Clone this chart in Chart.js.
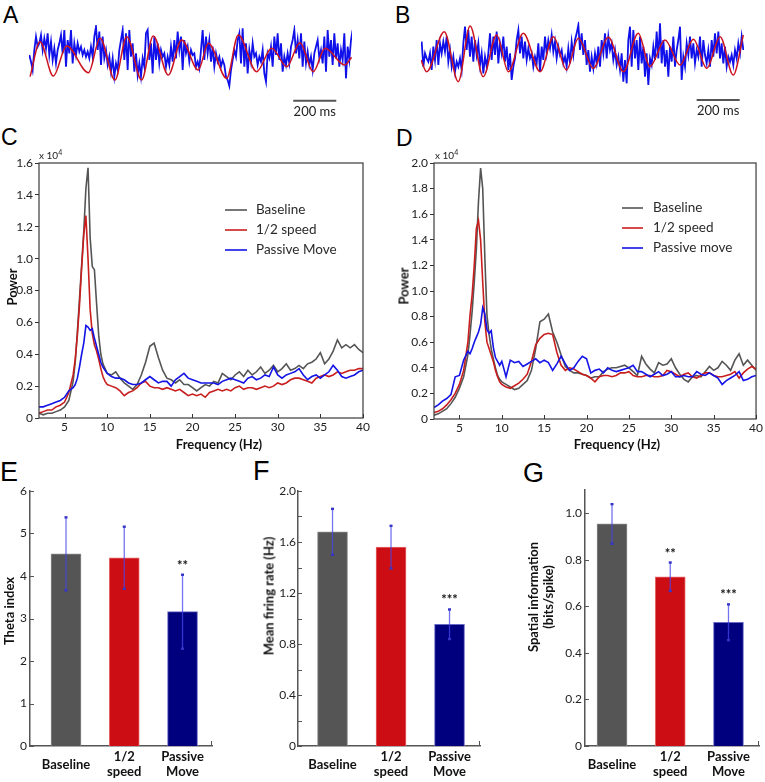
<!DOCTYPE html>
<html>
<head>
<meta charset="utf-8">
<script src="https://cdn.jsdelivr.net/npm/chart.js@4.4.0/dist/chart.umd.min.js"></script>
<style>
body{margin:0;background:#fff;}
#fig{position:relative;width:765px;height:782px;overflow:hidden;font-family:Lato,sans-serif;color:#111;}
canvas{position:absolute;}
.lbl{position:absolute;font-family:"Liberation Sans",Arial,sans-serif;line-height:1;color:#000;}
.ttl{position:absolute;font-weight:bold;font-size:13px;line-height:1;white-space:nowrap;transform:translate(-50%,-50%);}
.ttl.r{transform:translate(-50%,-50%) rotate(-90deg);}
.exp{position:absolute;font-size:10px;line-height:1;color:#222;}
.exp span{font-size:7px;position:relative;top:-4px;}
</style>
</head>
<body>
<div id="fig">
  <div class="lbl" style="left:3px;top:4px;font-size:23px">A</div>
  <div class="lbl" style="left:395px;top:4px;font-size:23px">B</div>
  <div class="lbl" style="left:1px;top:126px;font-size:23px">C</div>
  <div class="lbl" style="left:396px;top:127px;font-size:23px">D</div>
  <div class="lbl" style="left:0px;top:459px;font-size:27px">E</div>
  <div class="lbl" style="left:253px;top:458px;font-size:27px">F</div>
  <div class="lbl" style="left:523px;top:460px;font-size:27px">G</div>

  <canvas id="traceA" width="333" height="105" style="left:24px;top:20px"></canvas>
  <canvas id="traceB" width="333" height="108" style="left:416px;top:17px"></canvas>
  <canvas id="specC" width="380" height="300" style="left:0px;top:140px"></canvas>
  <canvas id="specD" width="380" height="300" style="left:385px;top:140px"></canvas>
  <canvas id="barE" width="250" height="302" style="left:0px;top:480px"></canvas>
  <canvas id="barF" width="255" height="302" style="left:250px;top:480px"></canvas>
  <canvas id="barG" width="260" height="302" style="left:505px;top:480px"></canvas>

  <div class="exp" style="left:39px;top:150px">x 10<span>4</span></div>
  <div class="exp" style="left:435px;top:150px">x 10<span>4</span></div>
  <div class="ttl r" style="left:12px;top:287px">Power</div>
  <div class="ttl r" style="left:404px;top:286px">Power</div>
  <div class="ttl" style="left:219px;top:444px">Frequency (Hz)</div>
  <div class="ttl" style="left:617px;top:444px">Frequency (Hz)</div>
  <div class="ttl r" style="left:9px;top:611px">Theta index</div>
  <div class="ttl r" style="left:269px;top:596px">Mean firing rate (Hz)</div>
  <div class="ttl r" style="left:533px;top:597px">Spatial information</div>
  <div class="ttl r" style="left:548px;top:597px">(bits/spike)</div>
</div>

<script>
'use strict';

// ---- A / B: raw LFP (blue) and theta-filtered trace (red), arbitrary units ----
const traceStepMs = 7.74;
const traceAStartMs = 1.5;
const traceABlue = [10,-10,-35,25,65,35,45,70,25,60,30,75,10,50,-5,30,-15,25,45,70,15,85,-25,55,15,85,-15,45,10,45,20,35,10,25,5,20,0,35,5,65,95,25,80,-20,65,0,25,-20,5,-40,0,-55,-15,-35,25,55,85,-5,75,-35,85,5,45,-40,15,-50,-15,-55,0,-25,75,85,-5,45,-45,65,-5,45,-15,25,5,15,-25,5,-20,35,-10,55,0,80,25,65,-35,55,15,35,-10,25,10,15,-25,-10,-30,25,85,-5,65,15,55,-10,35,-25,15,-10,5,-25,-5,-20,-55,-65,-83,-35,-5,25,5,55,75,-15,90,-25,45,-45,25,-10,45,5,15,-20,5,-10,25,-45,-70,15,0,35,-25,65,10,75,-5,45,-40,5,-20,15,-15,35,55,85,15,55,0,75,-25,50,-15,20,-20,5,-35,15,35,55,0,25,-15,65,-40,85,5,55,-20,75,0,45,-25,25,-5,75,-60,35,-5,55,85];
const traceARedMs = [5,51,113,175,276,330,399,454,523,577,647,709,786,833,918,972,1057,1127,1197,1258,1320,1375,1467,1498];
const traceARed = [-55,50,-53,37,-43,60,-65,65,-65,67,-50,55,-35,45,-60,70,-40,30,-25,47,-40,30,-20,3];

const traceBStartMs = 3.1;
const traceBBlue = [40,-35,5,-10,-20,5,-45,25,-15,45,-30,35,5,40,10,55,-20,15,-35,-5,-50,-20,-35,-10,-45,35,85,15,75,-5,55,-20,45,0,35,-30,5,-55,-5,-35,5,65,-15,55,0,70,-25,35,5,55,-20,25,-45,5,-75,-35,-10,45,75,5,55,-10,40,-15,20,-10,5,-35,-5,-25,35,-50,25,-15,55,5,45,20,60,10,40,-10,25,0,15,-25,-5,-35,20,-25,40,0,45,65,90,15,65,0,45,-30,15,-50,-5,-40,5,-25,25,-35,45,5,65,-10,55,15,35,-15,15,-30,-5,-45,5,-80,-15,-85,45,85,-35,75,-10,45,-45,55,-25,25,-65,5,-90,-10,-30,25,-15,70,-10,95,-25,45,-35,15,-65,25,-20,55,-35,15,45,85,-75,-5,-35,35,0,55,-10,35,-25,15,-5,55,-35,45,0,-25,15,-35,45,-5,65,5,70,-10,35,-25,25,-35,-5,-20,0,-30,15,-10,35,5,55,15];
const traceBRedMs = [0,26,108,173,228,289,351,406,475,553,615,676,731,800,870,940,1009,1063,1133,1203,1265,1327,1389,1450,1497];
const traceBRed = [-15,-50,70,-80,87,-65,60,-50,65,-50,55,-45,50,-40,53,-50,65,-35,45,-30,47,-40,55,-60,60];

// ---- C / D: power spectra (x 10^4) ----
const freqHz = [2,2.5,3,3.5,4,4.5,5,5.5,6,6.25,6.5,6.75,7,7.25,7.5,7.75,8,8.25,8.5,8.75,9,9.25,9.5,9.75,10,10.5,11,11.5,12,12.5,13,13.5,14,14.5,15,15.5,16,16.5,17,17.5,18,18.5,19,19.5,20,20.5,21,21.5,22,22.5,23,23.5,24,24.5,25,25.5,26,26.5,27,27.5,28,28.5,29,29.5,30,30.5,31,31.5,32,32.5,33,33.5,34,34.5,35,35.5,36,36.5,37,37.5,38,38.5,39,39.5,40];

const powerCBaseline = [.03,.02,.03,.03,.04,.05,.07,.11,.23,.35,.54,.75,.96,1.17,1.44,1.57,1.13,.95,.93,.72,.52,.40,.34,.31,.28,.27,.29,.25,.22,.20,.18,.21,.27,.35,.45,.47,.38,.30,.25,.24,.22,.24,.21,.21,.19,.17,.19,.21,.20,.23,.22,.28,.26,.24,.27,.29,.26,.30,.27,.29,.32,.28,.30,.33,.29,.31,.34,.30,.31,.33,.31,.34,.35,.37,.41,.34,.37,.42,.49,.44,.46,.44,.46,.43,.41];
const powerCHalf = [.03,.04,.05,.05,.07,.08,.10,.16,.27,.37,.52,.71,.94,1.15,1.27,1.00,.68,.53,.46,.42,.37,.31,.26,.23,.21,.20,.19,.17,.14,.16,.17,.19,.22,.23,.20,.19,.19,.18,.19,.18,.17,.18,.16,.14,.15,.14,.15,.13,.16,.17,.18,.17,.18,.17,.19,.20,.18,.19,.19,.18,.19,.20,.19,.20,.22,.21,.22,.24,.25,.25,.24,.23,.22,.25,.26,.27,.26,.27,.29,.28,.29,.30,.30,.31,.31];
const powerCPassive = [.07,.07,.08,.09,.10,.11,.13,.17,.19,.21,.25,.32,.40,.47,.58,.57,.55,.56,.50,.45,.40,.35,.32,.30,.28,.26,.25,.25,.24,.22,.21,.21,.22,.24,.26,.24,.22,.23,.23,.20,.24,.26,.28,.25,.24,.23,.22,.22,.22,.22,.21,.23,.24,.25,.24,.23,.22,.25,.26,.24,.25,.27,.26,.32,.27,.25,.27,.28,.29,.31,.27,.24,.26,.27,.25,.27,.29,.33,.30,.26,.25,.26,.27,.29,.30];

const powerDBaseline = [.03,.04,.06,.08,.12,.17,.24,.33,.50,.66,.84,1.07,1.33,1.70,1.96,1.80,1.26,.81,.66,.55,.47,.40,.34,.31,.29,.27,.25,.23,.24,.27,.30,.38,.55,.76,.78,.82,.68,.60,.50,.41,.38,.36,.36,.35,.34,.32,.33,.33,.37,.39,.40,.40,.41,.42,.40,.37,.34,.49,.43,.39,.36,.44,.42,.43,.47,.40,.35,.31,.29,.33,.34,.33,.37,.41,.38,.40,.45,.42,.38,.46,.51,.42,.46,.42,.38];
const powerDHalf = [.05,.06,.08,.11,.15,.20,.27,.38,.60,.81,.97,1.20,1.49,1.55,1.40,1.07,.76,.60,.55,.50,.45,.38,.33,.29,.27,.25,.24,.26,.28,.31,.35,.45,.58,.63,.66,.67,.66,.52,.42,.38,.40,.39,.37,.35,.34,.32,.29,.33,.34,.34,.33,.34,.36,.36,.37,.34,.33,.33,.34,.34,.33,.33,.34,.38,.37,.35,.33,.35,.36,.33,.32,.34,.36,.36,.34,.33,.33,.34,.35,.37,.32,.36,.39,.41,.39];
const powerDPassive = [.09,.11,.14,.16,.19,.33,.34,.46,.53,.51,.55,.60,.64,.68,.74,.87,.82,.70,.67,.69,.56,.48,.45,.42,.45,.33,.46,.44,.45,.41,.43,.45,.47,.44,.46,.44,.38,.43,.49,.43,.38,.40,.45,.49,.47,.36,.38,.39,.36,.40,.38,.37,.38,.39,.40,.42,.37,.37,.35,.33,.35,.37,.34,.35,.37,.33,.33,.34,.33,.33,.37,.35,.34,.36,.34,.32,.27,.30,.32,.34,.37,.30,.31,.33,.34];

const freqTicks = [5,10,15,20,25,30,35,40];

// ---- E / F / G: group means and SEM ----
const groupLabels = ['Baseline', ['1/2', 'speed'], ['Passive', 'Move']];
const thetaIndex = [4.52, 4.43, 3.16];
const thetaSem = [0.86, 0.73, 0.87];
const thetaStars = ['', '', '**'];
const firingRate = [1.68, 1.56, 0.955];
const firingSem = [0.18, 0.167, 0.116];
const firingStars = ['', '', '***'];
const spatialInfo = [0.955, 0.728, 0.532];
const spatialSem = [0.085, 0.061, 0.077];
const spatialStars = ['', '**', '***'];

const GRAY = '#555555', RED = '#c81e1e', BLUE = '#1414e6';

Chart.defaults.font.family = 'Lato, sans-serif';
Chart.defaults.font.size = 12;
Chart.defaults.color = '#222';
Chart.defaults.animation = false;
Chart.defaults.plugins.legend.display = false;
Chart.defaults.plugins.tooltip.enabled = false;

// small tick marks drawn inside the plot area
const innerTicks = {
	id: 'innerTicks',
	afterDraw(chart, args, o){
		const {ctx, chartArea: a} = chart;
		ctx.save();
		ctx.strokeStyle = o.color || '#333';
		ctx.lineWidth = 1;
		if(o.x){
			chart.scales.x.ticks.forEach(t => {
				const px = Math.round(chart.scales.x.getPixelForValue(t.value)) + 0.5;
				ctx.beginPath(); ctx.moveTo(px, a.bottom); ctx.lineTo(px, a.bottom - o.x); ctx.stroke();
			});
		}
		if(o.y){
			chart.scales.y.ticks.forEach(t => {
				const py = Math.round(chart.scales.y.getPixelForValue(t.value)) + 0.5;
				ctx.beginPath(); ctx.moveTo(a.left, py); ctx.lineTo(a.left + o.y, py); ctx.stroke();
			});
		}
		if(o.end){
			ctx.beginPath(); ctx.moveTo(a.right - 0.5, a.bottom); ctx.lineTo(a.right - 0.5, a.bottom - o.end); ctx.stroke();
		}
		ctx.restore();
	}
};

const frameBox = {
	id: 'frameBox',
	afterDraw(chart){
		const {ctx, chartArea: a} = chart;
		ctx.save();
		ctx.strokeStyle = '#3a3a3a';
		ctx.lineWidth = 1.2;
		ctx.strokeRect(a.left, a.top, a.width, a.height);
		ctx.restore();
	}
};

const insideLegend = {
	id: 'insideLegend',
	afterDraw(chart, args, o){
		const {ctx, chartArea: a} = chart;
		ctx.save();
		ctx.font = '13.5px Lato';
		ctx.textBaseline = 'middle';
		chart.data.datasets.forEach((ds, i) => {
			const y = a.top + o.top + i * o.rowGap;
			ctx.strokeStyle = ds.borderColor;
			ctx.lineWidth = 1.6;
			ctx.beginPath(); ctx.moveTo(a.left + o.left, y); ctx.lineTo(a.left + o.left + o.lineLen, y); ctx.stroke();
			ctx.fillStyle = '#2a2a2a';
			ctx.fillText(ds.label, a.left + o.textLeft, y);
		});
		ctx.restore();
	}
};

const scaleBar = {
	id: 'scaleBar',
	afterDraw(chart, args, o){
		const {ctx, chartArea: a} = chart;
		const x = chart.scales.x;
		const x0 = x.getPixelForValue(o.start), x1 = x.getPixelForValue(o.start + o.length);
		const yb = a.bottom + o.dy;
		ctx.save();
		ctx.strokeStyle = '#555';
		ctx.lineWidth = 2;
		ctx.beginPath(); ctx.moveTo(x0, yb); ctx.lineTo(x1, yb); ctx.stroke();
		ctx.fillStyle = '#222';
		ctx.font = '13px Lato';
		ctx.textAlign = 'center';
		ctx.textBaseline = 'middle';
		ctx.fillText(o.text, (x0 + x1) / 2, yb + o.textDy);
		ctx.restore();
	}
};

const errorBars = {
	id: 'errorBars',
	afterDatasetsDraw(chart, args, o){
		const {ctx} = chart;
		const y = chart.scales.y;
		const vals = chart.data.datasets[0].data;
		ctx.save();
		chart.getDatasetMeta(0).data.forEach((bar, i) => {
			const v = vals[i].y, e = o.sem[i];
			const top = y.getPixelForValue(v + e), bot = y.getPixelForValue(v - e);
			ctx.strokeStyle = 'rgba(70,70,235,0.75)';
			ctx.lineWidth = 1.3;
			ctx.beginPath(); ctx.moveTo(bar.x, top); ctx.lineTo(bar.x, bot); ctx.stroke();
			ctx.fillStyle = '#3535c8';
			ctx.fillRect(bar.x - 1.5, top - 1.2, 3, 2.4);
			ctx.fillRect(bar.x - 1.5, bot - 1.2, 3, 2.4);
			if(o.stars[i]){
				ctx.fillStyle = '#111';
				ctx.font = 'bold 13px Lato';
				ctx.textAlign = 'center';
				ctx.textBaseline = 'alphabetic';
				ctx.fillText(o.stars[i], bar.x, top - 5);
			}
		});
		ctx.restore();
	}
};

function makeTrace(id, startMs, blue, redMs, red, pad, bar){
	const bluePts = blue.map((v, i) => ({x: startMs + i * traceStepMs, y: v}));
	const redPts = redMs.map((t, i) => ({x: t, y: red[i]}));
	new Chart(document.getElementById(id), {
		type: 'line',
		data: {
			datasets: [
				{data: redPts, borderColor: '#cc1420', borderWidth: 1.5, cubicInterpolationMode: 'monotone', pointRadius: 0, order: 0},
				{data: bluePts, borderColor: '#1010ea', borderWidth: 1.8, tension: 0, pointRadius: 0, order: 1}
			]
		},
		options: {
			responsive: false,
			devicePixelRatio: 1,
			layout: {padding: pad},
			scales: {
				x: {type: 'linear', display: false, min: 0, max: 1500},
				y: {display: false, min: -100, max: 100}
			},
			plugins: {scaleBar: bar}
		},
		plugins: [scaleBar]
	});
}

makeTrace('traceA', traceAStartMs, traceABlue, traceARedMs, traceARed,
	{left: 5, right: 5, top: 5, bottom: 33.33},
	{start: 1227, length: 200, dy: 9, textDy: 11.3, text: '200 ms'});
makeTrace('traceB', traceBStartMs, traceBBlue, traceBRedMs, traceBRed,
	{left: 5, right: 5, top: 4.67, bottom: 36.67},
	{start: 1280, length: 200, dy: 11.7, textDy: 11, text: '200 ms'});

function makeSpectrum(id, series, names, yMax, pad, yWidth, xHeight, legend){
	const colors = [GRAY, RED, BLUE];
	new Chart(document.getElementById(id), {
		type: 'line',
		data: {
			datasets: series.map((s, k) => ({
				label: names[k],
				data: freqHz.map((f, i) => ({x: f, y: s[i]})),
				borderColor: colors[k],
				borderWidth: 1.6,
				pointRadius: 0,
				tension: 0,
				order: 2 - k
			}))
		},
		options: {
			responsive: false,
			devicePixelRatio: 1,
			layout: {padding: pad},
			scales: {
				x: {
					type: 'linear', min: 2, max: 40,
					afterBuildTicks: s => { s.ticks = freqTicks.map(v => ({value: v})); },
					afterFit: s => { s.height = xHeight; },
					grid: {display: false, drawTicks: false},
					border: {display: false},
					ticks: {padding: 2, maxRotation: 0, callback: v => String(v)}
				},
				y: {
					min: 0, max: yMax,
					ticks: {stepSize: 0.2, padding: 2, callback: v => (Math.abs(v) < 1e-9 ? '0' : v.toFixed(1))},
					afterFit: s => { s.width = yWidth; },
					grid: {drawOnChartArea: false, drawTicks: true, tickLength: 4, color: '#333'},
					border: {display: false}
				}
			},
			plugins: {innerTicks: {x: 4}, insideLegend: legend}
		},
		plugins: [frameBox, innerTicks, insideLegend]
	});
}

makeSpectrum('specC', [powerCBaseline, powerCHalf, powerCPassive], ['Baseline', '1/2 speed', 'Passive Move'], 1.6,
	{left: 0, top: 23, right: 17, bottom: 0}, 39, 22,
	{left: 186, lineLen: 22, textLeft: 217, top: 47, rowGap: 20});
makeSpectrum('specD', [powerDBaseline, powerDHalf, powerDPassive], ['Baseline', '1/2 speed', 'Passive move'], 2.0,
	{left: 0, top: 23, right: 8, bottom: 0}, 49, 21,
	{left: 188, lineLen: 21, textLeft: 219, top: 45, rowGap: 20});

function makeBars(id, values, sem, stars, yOpts, xMin, xMax, pad, yWidth){
	new Chart(document.getElementById(id), {
		type: 'bar',
		data: {
			datasets: [{
				data: values.map((v, i) => ({x: i, y: v})),
				backgroundColor: ['#555555', '#cc0e14', '#00007f'],
				borderColor: ['#8a8a8a', '#e56a6a', '#6a6ac4'],
				borderWidth: 1,
				barThickness: 30
			}]
		},
		options: {
			responsive: false,
			devicePixelRatio: 1,
			layout: {padding: pad},
			scales: {
				x: {
					type: 'linear', min: xMin, max: xMax, offset: false,
					afterBuildTicks: s => { s.ticks = [0, 1, 2].map(v => ({value: v})); },
					afterFit: s => { s.height = 36; },
					grid: {display: false, drawTicks: false},
					border: {display: true, color: '#555', width: 1.5},
					ticks: {
						padding: 11, maxRotation: 0, crossAlign: 'center', color: '#111',
						font: {size: 13, weight: 'bold', lineHeight: 1.15},
						callback: v => groupLabels[v]
					}
				},
				y: Object.assign({
					afterFit: s => { s.width = yWidth; },
					grid: {display: false, drawTicks: false},
					border: {display: true, color: '#555', width: 1.5}
				}, yOpts)
			},
			plugins: {innerTicks: {y: 4, end: 5, color: '#555'}, errorBars: {sem: sem, stars: stars}}
		},
		plugins: [innerTicks, errorBars]
	});
}

makeBars('barE', thetaIndex, thetaSem, thetaStars,
	{min: 0, max: 6, ticks: {stepSize: 1, padding: 3}},
	-0.618, 2.506, {left: 0, top: 11, right: 38, bottom: 0}, 30);
makeBars('barF', firingRate, firingSem, firingStars,
	{min: 0, max: 2.0, ticks: {stepSize: 0.2, padding: 2, callback: v => { const k = Math.round(v * 10); return k % 4 === 0 ? (k === 0 ? '0' : v.toFixed(1)) : ''; }}},
	-0.59, 2.521, {left: 0, top: 11, right: 25, bottom: 0}, 48);
makeBars('barG', spatialInfo, spatialSem, spatialStars,
	{min: 0, max: 1.1, afterBuildTicks: s => { s.ticks = s.ticks.filter(t => t.value <= 1.0001); },
	 ticks: {stepSize: 0.2, padding: 3, callback: v => (Math.abs(v) < 1e-9 ? '0' : v.toFixed(1))}},
	-0.464, 2.524, {left: 0, top: 10, right: 6, bottom: 0}, 80);
</script>
</body>
</html>
